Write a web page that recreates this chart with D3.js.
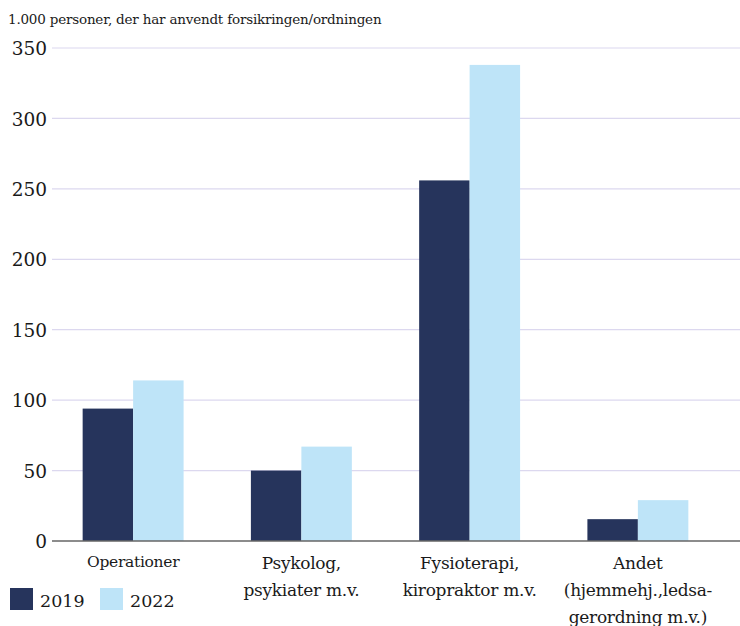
<!DOCTYPE html>
<html><head><meta charset="utf-8">
<script src="https://cdn.jsdelivr.net/npm/d3@7"></script>
<style>body{margin:0;background:#fff}svg{display:block}text{font-family:"DejaVu Serif",serif;fill:#1a1a1a}</style>
</head><body><svg id="c" width="740" height="626"></svg>
<script>
const categories = [["Operationer"],["Psykolog,","psykiater m.v."],["Fysioterapi,","kiropraktor m.v."],["Andet","(hjemmehj.,ledsa-","gerordning m.v.)"]];
const catKeys = ["Operationer","Psykolog","Fysioterapi","Andet"];
const series = ["2019","2022"];
const values2019 = [94, 50, 256, 15.5];
const values2022 = [114, 67, 338, 29];
const yTicks = [0,50,100,150,200,250,300,350];
const colors = ["#26345c","#bee4f8"];
const title = "1.000 personer, der har anvendt forsikringen/ordningen";

const svg = d3.select("#c");
const y = d3.scaleLinear().domain([0,350]).range([541,48]);
const x = d3.scaleBand().domain(catKeys).range([49,722]).paddingInner(0.4).paddingOuter(0.2);
const xs = d3.scaleBand().domain(series).range([0,x.bandwidth()]);

svg.append("text").attr("x",8).attr("y",24).attr("font-size",13.5).attr("letter-spacing",-0.2).text(title);

const yAxis = d3.axisLeft(y).tickValues(yTicks).tickSize(0).tickPadding(0);
const gy = svg.append("g").attr("transform","translate(47,0)").call(yAxis);
gy.select(".domain").remove();
gy.selectAll("text").attr("font-size",18.5).attr("font-family","DejaVu Serif").attr("fill","#1a1a1a").attr("dy","0.36em");

svg.append("g").selectAll("line").data(yTicks.filter(d=>d>0)).join("line")
  .attr("x1",52).attr("x2",740).attr("y1",d=>y(d)).attr("y2",d=>y(d))
  .attr("stroke","#dcd8ef").attr("stroke-width",1.2);

const data = catKeys.map((k,i)=>({k, vals:[values2019[i],values2022[i]]}));
const g = svg.append("g");
data.forEach(d=>{
  d.vals.forEach((v,j)=>{
    g.append("rect").attr("x",x(d.k)+xs(series[j])).attr("width",xs.bandwidth())
     .attr("y",y(v)).attr("height",y(0)-y(v)).attr("fill",colors[j]);
  });
});

svg.append("line").attr("x1",52).attr("x2",740).attr("y1",y(0)).attr("y2",y(0)).attr("stroke","#666").attr("stroke-width",1.5);

const xl = svg.append("g");
categories.forEach((lines,i)=>{
  const cx = x(catKeys[i]) + x.bandwidth()/2;
  const t = xl.append("text").attr("text-anchor","middle").attr("font-size", i===0?15.5:17).attr("letter-spacing",-0.3);
  lines.forEach((ln,li)=>{
    t.append("tspan").attr("x",cx).attr("y", (i===0?567:569) + li*27).text(ln);
  });
});

const leg = svg.append("g");
series.forEach((s,j)=>{
  const lx = j===0?10:100;
  leg.append("rect").attr("x",lx).attr("y",588).attr("width",23).attr("height",22).attr("fill",colors[j]);
  leg.append("text").attr("x",lx+30).attr("y",607).attr("font-size",17.5).text(s);
});
</script></body></html>
